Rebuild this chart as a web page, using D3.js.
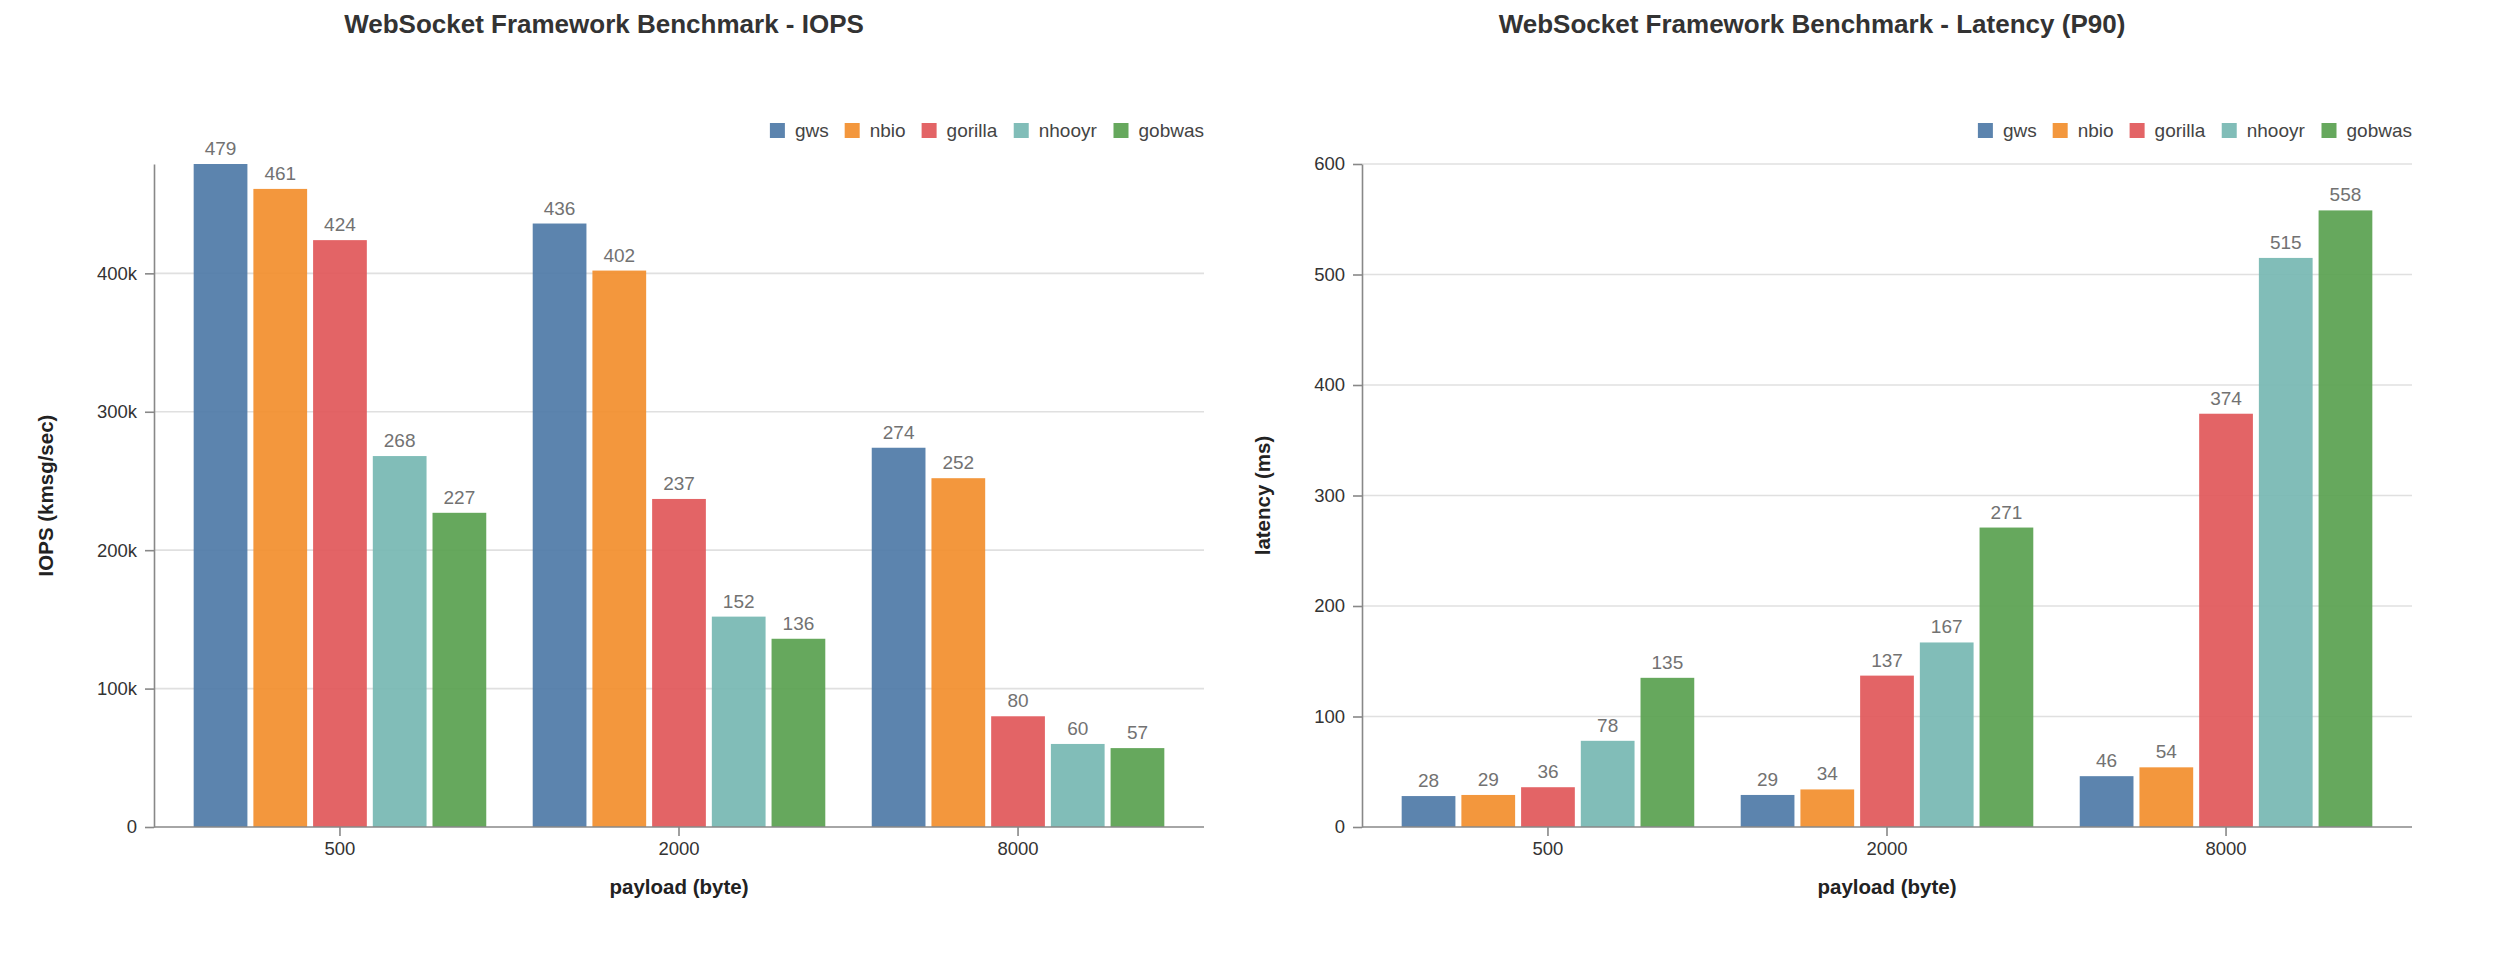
<!DOCTYPE html>
<html>
<head>
<meta charset="utf-8">
<script src="https://cdn.jsdelivr.net/npm/d3@7"></script>
<style>
  body { margin: 0; background: #fff; }
  text { font-family: "Liberation Sans", Arial, Helvetica, sans-serif; }
</style>
</head>
<body>
<div id="charts"></div>
<script>
// data
var payloads = ["500", "2000", "8000"];
var frameworks = ["gws", "nbio", "gorilla", "nhooyr", "gobwas"];
var colors = ["#4e79a7", "#f28e2c", "#e15759", "#76b7b2", "#59a14f"];

// IOPS in k msg/sec, one row per payload
var iops = [
  [479, 461, 424, 268, 227],
  [436, 402, 237, 152, 136],
  [274, 252, 80, 60, 57],
];

// P90 latency in ms, one row per payload
var latency = [
  [28, 29, 36, 78, 135],
  [29, 34, 137, 167, 271],
  [46, 54, 374, 515, 558],
];

var iopsTicks = [0, 100, 200, 300, 400];
var latencyTicks = [0, 100, 200, 300, 400, 500, 600];

var svgWidth = 2511;
var svgHeight = 957;

var svg = d3.select("#charts")
  .append("svg")
  .attr("width", svgWidth)
  .attr("height", svgHeight);

var color = d3.scaleOrdinal().domain(frameworks).range(colors);

function drawChart(opts) {
  var g = svg.append("g").attr("transform", `translate(${opts.offset}, 0)`);

  var left = 154, right = 1204, top = 164, bottom = 827;

  var x0 = d3.scaleBand()
    .domain(payloads)
    .range([left, right])
    .paddingInner(0.137)
    .paddingOuter(0.117);

  var x1 = d3.scaleBand()
    .domain(frameworks)
    .range([0, x0.bandwidth()])
    .paddingInner(0.1);

  var y = d3.scaleLinear()
    .domain(opts.domain)
    .range([bottom, top]);

  // title
  g.append("text")
    .attr("x", 604)
    .attr("y", 33)
    .attr("text-anchor", "middle")
    .attr("font-size", "26px")
    .attr("font-weight", "bold")
    .attr("fill", "#333")
    .text(opts.title);

  // grid
  g.append("g")
    .selectAll("line")
    .data(opts.ticks.filter((d) => d > 0))
    .enter()
    .append("line")
    .attr("x1", left)
    .attr("x2", right)
    .attr("y1", (d) => y(d))
    .attr("y2", (d) => y(d))
    .attr("stroke", "#e0e0e0")
    .attr("stroke-width", 1.6);

  // bars
  var groups = g.append("g")
    .selectAll("g")
    .data(opts.values)
    .enter()
    .append("g")
    .attr("transform", (d, i) => `translate(${x0(payloads[i])}, 0)`);

  groups.selectAll("rect")
    .data((d) => d.map((v, j) => ({ key: frameworks[j], value: v })))
    .enter()
    .append("rect")
    .attr("x", (d) => x1(d.key))
    .attr("y", (d) => y(d.value))
    .attr("width", x1.bandwidth())
    .attr("height", (d) => bottom - y(d.value))
    .attr("fill", (d) => color(d.key))
    .attr("opacity", 0.92);

  groups.selectAll("text")
    .data((d) => d.map((v, j) => ({ key: frameworks[j], value: v })))
    .enter()
    .append("text")
    .attr("x", (d) => x1(d.key) + x1.bandwidth() / 2)
    .attr("y", (d) => y(d.value) - 9)
    .attr("text-anchor", "middle")
    .attr("font-size", "19px")
    .attr("fill", "#727272")
    .text((d) => d.value);

  // axes
  var xAxis = g.append("g")
    .attr("transform", `translate(0, ${bottom})`)
    .call(d3.axisBottom(x0).tickSize(9).tickPadding(6).tickSizeOuter(0));

  var yAxis = g.append("g")
    .attr("transform", `translate(${left}, 0)`)
    .call(d3.axisLeft(y).tickValues(opts.ticks).tickFormat(opts.format)
      .tickSize(9).tickPadding(8).tickSizeOuter(0));

  [xAxis, yAxis].forEach((a) => {
    a.select(".domain").attr("stroke", "#888").attr("stroke-width", 1.6);
    a.selectAll(".tick line").attr("stroke", "#888").attr("stroke-width", 1.6);
    a.selectAll(".tick text")
      .attr("font-size", "18.5px")
      .attr("fill", "#333")
      .attr("font-family", "Liberation Sans, Arial, sans-serif");
  });
  xAxis.select(".domain").attr("d", `M${left},0H${right}`);

  // axis labels
  g.append("text")
    .attr("x", (left + right) / 2)
    .attr("y", 894)
    .attr("text-anchor", "middle")
    .attr("font-size", "20.5px")
    .attr("font-weight", "bold")
    .attr("fill", "#222")
    .text("payload (byte)");

  g.append("text")
    .attr("transform", `translate(${opts.yLabelX}, ${(top + bottom) / 2}) rotate(-90)`)
    .attr("text-anchor", "middle")
    .attr("dy", "0.35em")
    .attr("font-size", "20.5px")
    .attr("font-weight", "bold")
    .attr("fill", "#222")
    .text(opts.yLabel);

  // legend, right aligned to plot edge
  var legend = g.append("g").attr("transform", "translate(0, 123)");
  var items = legend.selectAll("g")
    .data(frameworks)
    .enter()
    .append("g");

  items.append("rect")
    .attr("width", 15)
    .attr("height", 15)
    .attr("fill", (d) => color(d))
    .attr("opacity", 0.92);

  items.append("text")
    .attr("x", 25)
    .attr("y", 14)
    .attr("font-size", "19px")
    .attr("fill", "#444")
    .text((d) => d);

  var widths = [];
  items.each(function () { widths.push(this.getBBox().width); });
  var total = d3.sum(widths) + 16 * (widths.length - 1);
  var pos = right - total;
  items.attr("transform", function (d, i) {
    var t = `translate(${pos}, 0)`;
    pos += widths[i] + 16;
    return t;
  });
}

drawChart({
  offset: 0,
  title: "WebSocket Framework Benchmark - IOPS",
  values: iops,
  domain: [0, 479],
  ticks: iopsTicks,
  format: (d) => (d === 0 ? "0" : d + "k"),
  yLabel: "IOPS (kmsg/sec)",
  yLabelX: 46,
});

drawChart({
  offset: 1208,
  title: "WebSocket Framework Benchmark - Latency (P90)",
  values: latency,
  domain: [0, 600],
  ticks: latencyTicks,
  format: (d) => d,
  yLabel: "latency (ms)",
  yLabelX: 55,
});
</script>
</body>
</html>
